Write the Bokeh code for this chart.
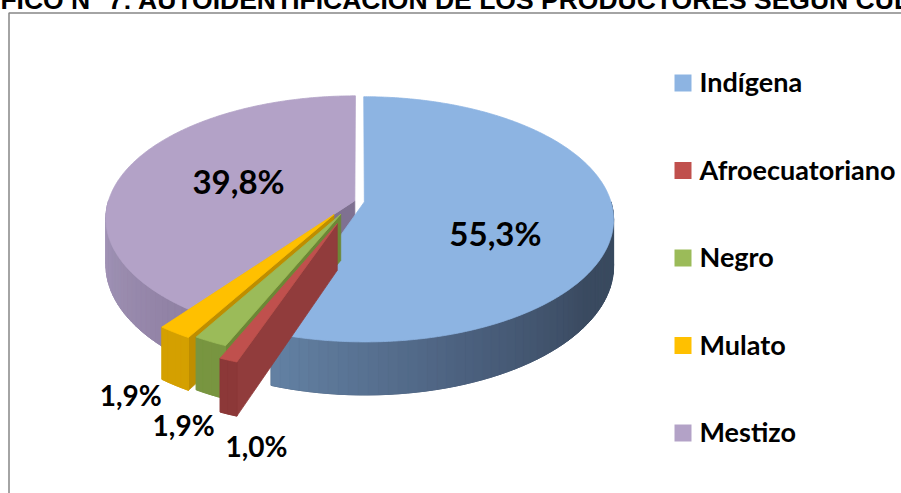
import numpy as np
from bokeh.plotting import figure
from bokeh.models import Range1d
from bokeh.core.properties import value
from bokeh.embed import file_html
from bokeh.resources import INLINE

# ---------------- data ----------------
categories = ["Indígena", "Afroecuatoriano", "Negro", "Mulato", "Mestizo"]
percent = [55.3, 1.0, 1.9, 1.9, 39.8]
labels = ["55,3%", "1,0%", "1,9%", "1,9%", "39,8%"]
title_text = "GRÁFICO N° 7: AUTOIDENTIFICACIÓN DE LOS PRODUCTORES SEGÚN CULTURA"

# ---------------- style ----------------
top_colors = ["#8DB4E2", "#C0504D", "#9BBB59", "#FFC000", "#B3A2C7"]
side_stops = [
    [(199, "#6381A3"), (160, "#4C617F"), (125, "#3A4A60"), (90, "#394A5E")],
    [(0, "#8C3838"), (360, "#8C3838")],
    [(0, "#789540"), (360, "#789540")],
    [(0, "#D4A000"), (360, "#D4A000")],
    [(270, "#A699BB"), (216, "#8F80A3")],
]
face_colors = ["#3A4A60", "#913C3C", "#6C8836", "#BE8E00", "#7F7191"]
explode = [(0.0197, -0.0033), (-0.088, -0.180), (-0.075, -0.105),
           (-0.102, -0.108), (-0.019, 0.0062)]
draw_order = [4, 0, 3, 2, 1]

CX, CY = 359.0, 201.0
A, B, K, D = 246.5, 120.0, 0.142, 45.5

# the SVG text is drawn with its em-box middle on the anchor; shift anchors so
# that the given y is the alphabetic baseline
MID_LATO, MID_LIB = 0.40, 0.35


def proj(X, Z, h):
    w = 1.0 + K * Z
    return CX + A * X / w, CY - B * Z / w + h * D / w


def hex2rgb(c):
    c = c.lstrip("#")
    return np.array([int(c[i:i + 2], 16) for i in (0, 2, 4)], float)


def grad(stops, t):
    st = sorted(stops, key=lambda s: s[0])
    angs = [s[0] for s in st]
    cols = [hex2rgb(s[1]) for s in st]
    c = cols[0] if t <= angs[0] else cols[-1]
    if angs[0] < t < angs[-1]:
        for j in range(len(angs) - 1):
            if angs[j] <= t <= angs[j + 1]:
                f = (t - angs[j]) / (angs[j + 1] - angs[j])
                c = cols[j] * (1 - f) + cols[j + 1] * f
                break
    return "#%02x%02x%02x" % tuple(int(round(v)) for v in c)


total = float(sum(percent))
ends = np.cumsum(percent) / total * 360.0
starts = np.concatenate([[0.0], ends[:-1]])

xs, ys, cs = [], [], []


def add(pts, color):
    xs.append([q[0] for q in pts])
    ys.append([q[1] for q in pts])
    cs.append(color)


def rim(ox, oz, t, h):
    r = np.radians(t)
    return proj(ox + np.sin(r), oz + np.cos(r), h)


for i in draw_order:
    t1, t2 = starts[i], ends[i]
    ox, oz = explode[i]
    for t, sgn in ((t1, -1), (t2, 1)):
        if sgn * np.sin(np.radians(t)) > 1e-6:
            add([proj(ox, oz, 0), rim(ox, oz, t, 0), rim(ox, oz, t, 1),
                 proj(ox, oz, 1)], face_colors[i])
    lo, hi = max(t1, 90.0), min(t2, 270.0)
    if hi > lo:
        n = max(2, int((hi - lo) / 2.0) + 2)
        th = np.linspace(lo, hi, n)
        base = [rim(ox, oz, t, 0) for t in th] + [rim(ox, oz, t, 1) for t in th[::-1]]
        add(base, grad(side_stops[i], (lo + hi) / 2))
        strips = []
        for a, b in zip(th[:-1], th[1:]):
            pts = [rim(ox, oz, a, 0), rim(ox, oz, b, 0), rim(ox, oz, b, 1), rim(ox, oz, a, 1)]
            strips.append((np.cos(np.radians((a + b) / 2)), pts, grad(side_stops[i], (a + b) / 2)))
        strips.sort(key=lambda s: -s[0])
        for _, pts, col in strips:
            add(pts, col)
    n = max(2, int((t2 - t1) / 0.5) + 2)
    pts = [proj(ox, oz, 0)] + [rim(ox, oz, t, 0) for t in np.linspace(t1, t2, n)]
    add(pts, top_colors[i])

# the canvas lands 8px up/left of its nominal place, so it spans page -8..901
p = figure(width=909, height=501, x_range=Range1d(-8, 901), y_range=Range1d(493, -8),
           output_backend="svg", toolbar_location=None, min_border=0,
           x_axis_location=None, y_axis_location=None)
p.margin = (-8, -8, -8, -8)
p.grid.visible = False
p.outline_line_color = None
p.background_fill_color = "white"
p.border_fill_color = "white"

# chart frame
p.quad(left=[8.5], right=[960], top=[12.5], bottom=[560], fill_color=None,
       line_color="#868686", line_width=1.5)

# title, cut by the top edge as in the original
p.text(x=[-59], y=[9 - MID_LIB * 26.5], text=[title_text], text_font=value("Liberation Sans"),
       text_font_style="bold", text_font_size="26.5px", text_color="black",
       text_baseline="alphabetic", text_align="left")

p.patches(xs, ys, fill_color=cs, line_color=cs, line_width=0.8)

# data labels
mids = (starts + ends) / 2
big_off = {0: (8, 34), 4: (-2, 11.5)}
small_off = {3: (-44, 21), 2: (-27, 42), 1: (28, 43)}
for i in range(len(categories)):
    ox, oz = explode[i]
    m = np.radians(mids[i])
    if i in big_off:
        u, v = proj(ox + 0.5 * np.sin(m), oz + 0.5 * np.cos(m), 0)
        dx, dy = big_off[i]
        fs = 33
    else:
        u, v = proj(ox + np.sin(m), oz + np.cos(m), 1)
        dx, dy = small_off[i]
        fs = 28
    p.text(x=[u + dx], y=[v + dy - MID_LATO * fs], text=[labels[i]], text_font=value("Lato"),
           text_font_style="bold", text_font_size="%dpx" % fs, text_color="black",
           text_align="center", text_baseline="alphabetic")

# legend
leg_y = [82.5 + 87.5 * j for j in range(len(categories))]
p.rect(x=[682.5] * len(categories), y=leg_y, width=17, height=17,
       fill_color=top_colors, line_color=None)
p.text(x=[699] * len(categories), y=[v + 9.5 - MID_LATO * 27 for v in leg_y], text=categories,
       text_font=value("Lato"), text_font_style="bold", text_font_size="27px",
       text_color="black", text_align="left", text_baseline="alphabetic")

open("out.html", "w").write(file_html(p, INLINE))
